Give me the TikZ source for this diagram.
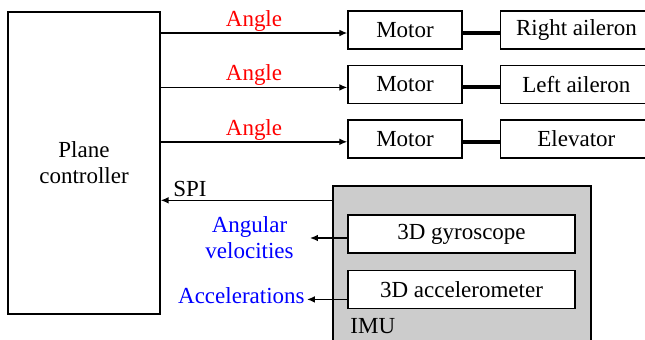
\documentclass[tikz,border=0pt]{standalone}
\usepackage{fontspec}
\setmainfont{Liberation Serif}
\usetikzlibrary{positioning, arrows.meta, calc}
\tikzset{
  block/.style={rectangle, minimum width=57pt, minimum height=19pt, inner sep=0pt, text centered, draw=black, fill=white, line width=0.7pt},
  surface/.style={block, minimum width=76pt},
  sensor/.style={block, minimum width=113.5pt},
  imubox/.style={rectangle, minimum width=129pt, minimum height=87pt, draw=black, fill=black!20, line width=0.7pt},
  rate/.style={text=blue, inner sep=1pt, align=center},
  arrow/.style={line width=0.7pt, -{Latex[length=4pt, width=3.4pt]}},
  shaft/.style={line width=2pt}
}
\begin{document}
\begin{tikzpicture}[x=0.5pt, y=-0.5pt, node distance=7.5pt and 18.5pt, font=\rmfamily\fontsize{11.5}{13}\selectfont]
  \clip (0,0) rectangle (645,339);
  \node (ctrl) [block, minimum width=76pt, minimum height=151pt, align=center] at (84,163) {Plane\\controller};
  % motors and control surfaces
  \node (m1) [block] at (405,30) {Motor};
  \node (m2) [block, below=of m1] {Motor};
  \node (m3) [block, below=of m2] {Motor};
  \node (s1) [surface, right=of m1] {Right aileron};
  \node (s2) [surface, right=of m2] {Left aileron};
  \node (s3) [surface, right=of m3] {Elevator};
  \foreach \i in {1,2,3} {
    \coordinate (a\i) at ([yshift=-1.5pt]m\i.west);
    \draw [arrow] (ctrl.east |- a\i) -- node[above, text=red, inner sep=0.5pt] {Angle} (a\i);
    \draw [shaft] ([yshift=-1.5pt]m\i.east) -- ([yshift=-1.5pt]s\i.west);
  }
  % IMU
  \node (imu) [imubox] at (462,273) {};
  \node (imutxt) [anchor=west, inner sep=0pt] at (350,326) {IMU};
  \node (gyro) [sensor] at (461.5,234) {3D gyroscope};
  \node (accel) [sensor, below=8pt of gyro] {3D accelerometer};
  \coordinate (spi) at ([yshift=-7.5pt]imu.north west);
  \draw [arrow] (spi) -- node[above, pos=0.83, inner sep=1.5pt] {SPI} (spi -| ctrl.east);
  \node (angvel) [rate, anchor=east] at (296,238) {Angular\\velocities};
  \node (accl) [rate, anchor=east] at (307,296) {Accelerations};
  \coordinate (g1) at ([yshift=-2pt]gyro.west);
  \coordinate (g2) at ([yshift=-5pt]accel.west);
  \draw [arrow, shorten >=7pt] (g1) -- (g1 -| angvel.east);
  \draw [arrow] (g2) -- (g2 -| accl.east);
\end{tikzpicture}
\end{document}
